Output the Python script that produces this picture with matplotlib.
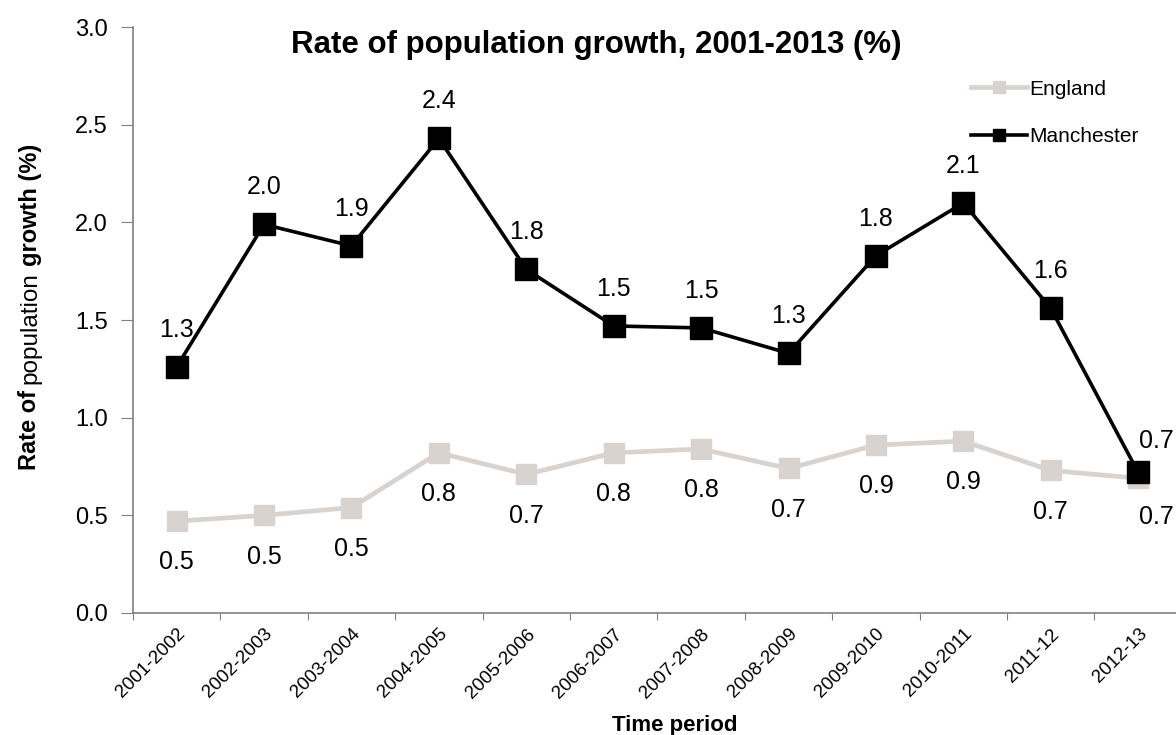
import numpy as np
import matplotlib.pyplot as plt

plt.rcParams['font.family'] = ['Liberation Sans', 'DejaVu Sans']

periods = ["2001-2002", "2002-2003", "2003-2004", "2004-2005", "2005-2006", "2006-2007",
           "2007-2008", "2008-2009", "2009-2010", "2010-2011", "2011-12", "2012-13"]
england = [0.47, 0.50, 0.54, 0.82, 0.71, 0.82, 0.84, 0.74, 0.86, 0.88, 0.73, 0.69]
manchester = [1.26, 1.99, 1.88, 2.43, 1.76, 1.47, 1.46, 1.33, 1.83, 2.10, 1.56, 0.72]

W, H = 1176, 735
fig = plt.figure(figsize=(W / 100, H / 100), dpi=100)
ax = fig.add_axes([0.113, 0.166, 0.892, 0.797])

x = np.arange(len(periods))
ax.plot(x, england, color="#d9d3cf", lw=3.4, marker="s", ms=15, label="England", zorder=2)
ax.plot(x, manchester, color="black", lw=2.6, marker="s", ms=16, label="Manchester", zorder=3)

# value labels: Manchester above the markers, England below
last = len(periods) - 1
for i, (e, m) in enumerate(zip(england, manchester)):
    if i == last:
        up, down, dx = 14, -19, 13
    else:
        up, down, dx = 18, -21, 0
    ax.annotate(f"{m:.1f}", (x[i], m), xytext=(dx, up), textcoords="offset points",
                ha="center", va="bottom", fontsize=18)
    ax.annotate(f"{e:.1f}", (x[i], e), xytext=(dx, down), textcoords="offset points",
                ha="center", va="top", fontsize=18)

ax.set_xlim(-0.5, len(periods) - 0.5)
ax.set_ylim(0, 3.0)
yt = np.arange(0, 3.01, 0.5)
ax.set_yticks(yt)
ax.set_yticklabels([f"{v:.1f}" for v in yt], fontsize=17)

ax.set_xticks(np.arange(-0.5, len(periods), 1.0))
ax.set_xticklabels([])
ax.set_xticks(x, minor=True)
ax.set_xticklabels(periods, minor=True, rotation=45, ha="right", rotation_mode="anchor", fontsize=13.5)
ax.tick_params(axis="x", which="minor", length=0, pad=9)
ax.tick_params(axis="x", which="major", length=5, color="#808080", direction="out")
ax.tick_params(axis="y", length=9, color="#808080", direction="out", pad=9)

for side in ("top", "right"):
    ax.spines[side].set_visible(False)
for side in ("left", "bottom"):
    ax.spines[side].set_color("#808080")
    ax.spines[side].set_linewidth(1.2)

# y axis title in three pieces, middle word smaller and not bold
renderer = fig.canvas.get_renderer()
pieces = [("Rate of", 17, "bold"), ("population", 17.5, "normal"), ("growth (%)", 17, "bold")]
ypos = 470
for txt, size, weight in pieces:
    t = fig.text(30 / W, 1 - ypos / H, txt, rotation=90, ha="center", va="bottom",
                 fontsize=size, fontweight=weight)
    bb = t.get_window_extent(renderer)
    ypos = H - bb.y1 - 6

fig.text(675 / W, 1 - 725 / H, "Time period", ha="center", va="center",
         fontsize=16, fontweight="bold")

fig.text(596 / W, 1 - 45 / H, "Rate of population growth, 2001-2013 (%)",
         ha="center", va="center", fontsize=22.5, fontweight="bold")

ax.legend(loc="upper left", bbox_to_anchor=(952 / W, 1 - 61 / H), bbox_transform=fig.transFigure,
          frameon=False, fontsize=15, handlelength=2.7, markerscale=0.55,
          labelspacing=1.35, handletextpad=0.1)

fig.savefig("out.png", dpi=100)
